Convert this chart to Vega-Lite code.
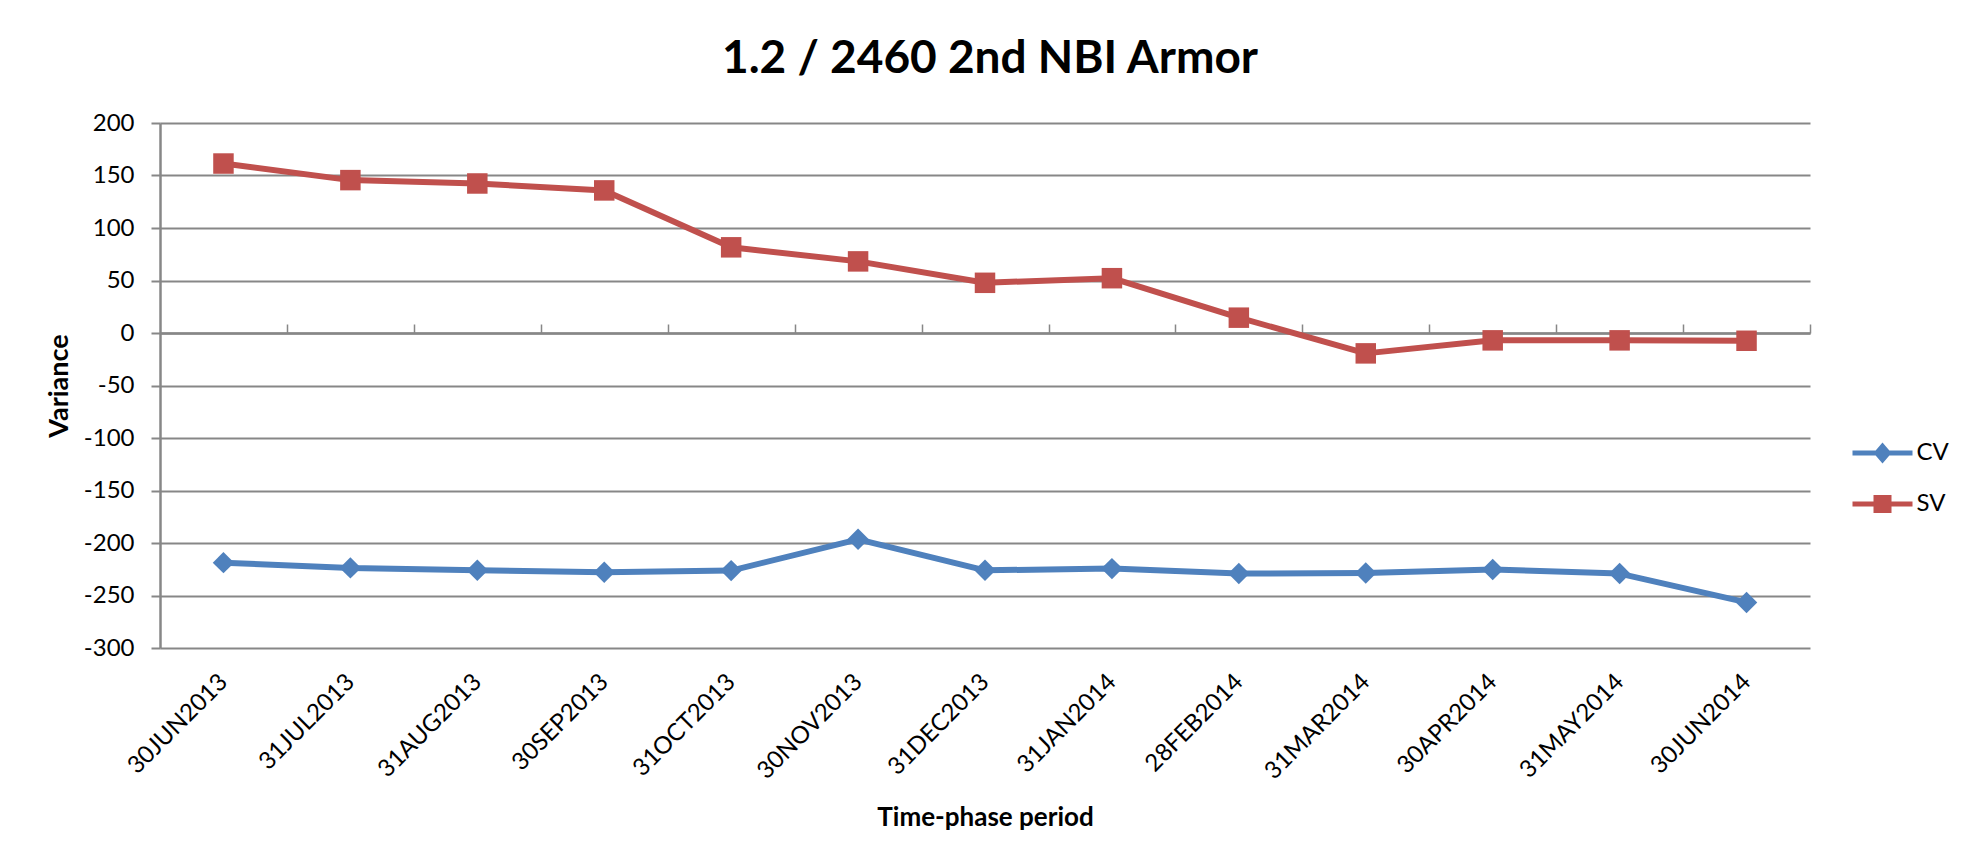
{
  "$schema": "https://vega.github.io/schema/vega-lite/v6.json",
  "autosize": {"type": "none"},
  "width": 1650,
  "height": 525,
  "padding": {"left": 160, "top": 123, "right": 172, "bottom": 218},
  "background": "white",
  "config": {
    "font": "Lato",
    "view": {"stroke": null},
    "axis": {"labelColor": "black", "titleColor": "black", "labelFont": "Lato", "titleFont": "Lato"},
    "legend": {"labelFont": "Lato"}
  },
  "title": {
    "text": "1.2 / 2460 2nd NBI Armor",
    "font": "Lato",
    "fontSize": 46,
    "fontWeight": "bold",
    "color": "black",
    "anchor": "middle",
    "frame": "group",
    "baseline": "alphabetic",
    "offset": -8,
    "dx": 5
  },
  "data": {
    "values": [
      {"period": "30JUN2013", "series": "CV", "value": -218.7},
      {"period": "31JUL2013", "series": "CV", "value": -223.7},
      {"period": "31AUG2013", "series": "CV", "value": -226},
      {"period": "30SEP2013", "series": "CV", "value": -227.8},
      {"period": "31OCT2013", "series": "CV", "value": -226.3},
      {"period": "30NOV2013", "series": "CV", "value": -196.5},
      {"period": "31DEC2013", "series": "CV", "value": -226},
      {"period": "31JAN2014", "series": "CV", "value": -224.4},
      {"period": "28FEB2014", "series": "CV", "value": -229.1},
      {"period": "31MAR2014", "series": "CV", "value": -228.5},
      {"period": "30APR2014", "series": "CV", "value": -225.3},
      {"period": "31MAY2014", "series": "CV", "value": -229.1},
      {"period": "30JUN2014", "series": "CV", "value": -256.6},
      {"period": "30JUN2013", "series": "SV", "value": 161.4},
      {"period": "31JUL2013", "series": "SV", "value": 145.6},
      {"period": "31AUG2013", "series": "SV", "value": 142.4},
      {"period": "30SEP2013", "series": "SV", "value": 135.8},
      {"period": "31OCT2013", "series": "SV", "value": 81.6},
      {"period": "30NOV2013", "series": "SV", "value": 68.2},
      {"period": "31DEC2013", "series": "SV", "value": 47.8},
      {"period": "31JAN2014", "series": "SV", "value": 52.2},
      {"period": "28FEB2014", "series": "SV", "value": 14.6},
      {"period": "31MAR2014", "series": "SV", "value": -19.4},
      {"period": "30APR2014", "series": "SV", "value": -7},
      {"period": "31MAY2014", "series": "SV", "value": -7},
      {"period": "30JUN2014", "series": "SV", "value": -7.4}
    ]
  },
  "resolve": {"axis": {"x": "independent"}},
  "layer": [
    {
      "mark": {"type": "line", "strokeWidth": 6, "strokeJoin": "round"},
      "encoding": {
        "x": {
          "field": "period", "type": "nominal",
          "scale": {"type": "point", "padding": 0.5, "domain": ["30JUN2013","31JUL2013","31AUG2013","30SEP2013","31OCT2013","30NOV2013","31DEC2013","31JAN2014","28FEB2014","31MAR2014","30APR2014","31MAY2014","30JUN2014"]},
          "axis": {
            "orient": "bottom", "labelAngle": -45, "labelAlign": "right", "labelBaseline": "middle",
            "labelPadding": 30, "labelFontSize": 24, "labelColor": "black",
            "domain": false, "ticks": false, "grid": false,
            "title": "Time-phase period", "titleFontSize": 26, "titleFontWeight": "bold", "titlePadding": 21
          }
        },
        "y": {
          "field": "value", "type": "quantitative",
          "scale": {"domain": [-300, 200], "nice": false, "zero": false},
          "axis": {
            "values": [-300, -250, -200, -150, -100, -50, 0, 50, 100, 150, 200],
            "labelExpr": "datum.value < 0 ? '-' + abs(datum.value) : '' + datum.value",
            "grid": true, "gridColor": "#878787", "gridWidth": 2, "gridOpacity": 1,
            "domain": true, "domainColor": "#878787", "domainWidth": 2.5,
            "ticks": true, "tickColor": "#878787", "tickWidth": 2, "tickSize": 9,
            "labelFontSize": 24, "labelPadding": 17, "labelColor": "black",
            "title": "Variance", "titleFontSize": 27, "titleFontWeight": "bold", "titlePadding": 10
          }
        },
        "color": {
          "field": "series", "type": "nominal",
          "scale": {"range": ["#4F81BD", "#C0504D"]},
          "legend": null
        }
      }
    },
    {
      "transform": [{"filter": "datum.series == 'CV'"}],
      "mark": {"type": "point", "filled": true, "shape": "diamond", "size": 460, "opacity": 1},
      "encoding": {
        "x": {
          "field": "period", "type": "nominal",
          "axis": {
            "orient": "top", "offset": -210, "labels": false, "title": null, "grid": false,
            "domain": true, "domainColor": "#878787", "domainWidth": 2.5,
            "ticks": true, "tickColor": "#878787", "tickWidth": 1.5, "tickSize": 9, "tickOffset": 63.5,
            "zindex": 0
          }
        },
        "y": {"field": "value", "type": "quantitative"},
        "color": {"field": "series", "type": "nominal", "legend": null}
      }
    },
    {
      "transform": [{"filter": "datum.series == 'SV'"}],
      "mark": {"type": "point", "filled": true, "shape": "square", "size": 420, "opacity": 1},
      "encoding": {
        "x": {"field": "period", "type": "nominal", "axis": null},
        "y": {"field": "value", "type": "quantitative"},
        "color": {"field": "series", "type": "nominal", "legend": null}
      }
    },
    {
      "mark": {"type": "point", "filled": true, "size": 0, "opacity": 1, "strokeWidth": 0},
      "encoding": {
        "x": {"field": "period", "type": "nominal", "axis": null},
        "y": {"field": "value", "type": "quantitative"},
        "fill": {
          "field": "series", "type": "nominal",
          "scale": {"domain": ["CV", "SV"], "range": ["#4F81BD", "#C0504D"]},
          "legend": {
            "orient": "none", "legendX": 1710.5, "legendY": 318, "title": null, "padding": 0,
            "symbolSize": 400, "labelOffset": 22, "labelFontSize": 24, "labelColor": "black",
            "rowPadding": 27, "symbolOpacity": 1, "symbolStrokeWidth": 0
          }
        },
        "shape": {
          "field": "series", "type": "nominal",
          "scale": {"domain": ["CV", "SV"], "range": ["M-3,-0.25H3V0.25H-3Z M0,-1.05L0.9,0L0,1.05L-0.9,0Z", "M-3,-0.25H3V0.25H-3Z M-0.9,-0.9H0.9V0.9H-0.9Z"]},
          "legend": {
            "orient": "none", "legendX": 1710.5, "legendY": 318, "title": null, "padding": 0,
            "symbolSize": 400, "labelOffset": 22, "labelFontSize": 24, "labelColor": "black",
            "rowPadding": 27, "symbolOpacity": 1, "symbolStrokeWidth": 0
          }
        }
      }
    }
  ]
}
